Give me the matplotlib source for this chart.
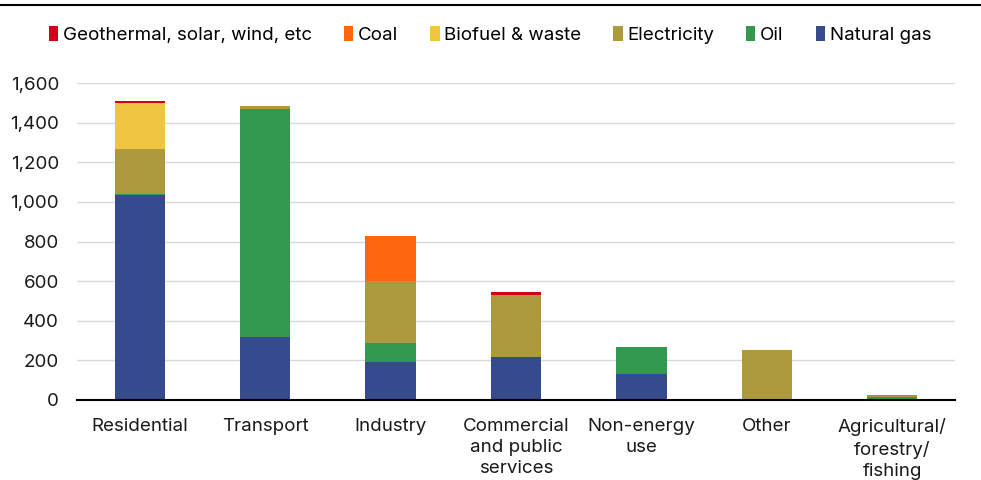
import matplotlib
matplotlib.use("Agg")
import matplotlib.pyplot as plt
from matplotlib.patches import Patch
from matplotlib.ticker import FuncFormatter
import numpy as np

plt.rcParams['font.family'] = ['Inter', 'DejaVu Sans']

categories = ["Residential", "Transport", "Industry", "Commercial\nand public\nservices",
              "Non-energy\nuse", "Other", "Agricultural/\nforestry/\nfishing"]

# Stacked bottom to top
natural_gas = [1035, 317, 192, 219, 133, 0, 2]
oil         = [5, 1151, 97, 0, 133, 0, 12]
electricity = [226, 18, 310, 311, 0, 252, 6]
biofuel     = [235, 0, 0, 0, 0, 0, 0]
coal        = [0, 0, 227, 0, 0, 0, 5]
geothermal  = [9, 0, 0, 15, 0, 0, 0]

series = [
    ("Natural gas", natural_gas, "#364A8E"),
    ("Oil", oil, "#339951"),
    ("Electricity", electricity, "#AE9A3E"),
    ("Biofuel & waste", biofuel, "#F0C541"),
    ("Coal", coal, "#FF6610"),
    ("Geothermal, solar, wind, etc", geothermal, "#D0021B"),
]

yticks = [0, 200, 400, 600, 800, 1000, 1200, 1400, 1600]

FS = 13.5

fig = plt.figure(figsize=(9.81, 4.8), dpi=100)
ax = fig.add_axes([0.0785, 0.1667, 0.895, 0.66])

x = np.arange(len(categories))
bottom = np.zeros(len(categories))
for name, vals, color in series:
    v = np.array(vals, dtype=float)
    ax.bar(x, v, width=0.4, bottom=bottom, color=color, edgecolor="none", zorder=3)
    bottom += v

ax.set_xlim(-0.5, len(categories) - 0.5)
ax.set_ylim(0, 1600)
ax.set_yticks(yticks)
ax.yaxis.set_major_formatter(FuncFormatter(lambda v, p: f"{int(v):,}"))
ax.set_xticks(x)
ax.set_xticklabels(categories, linespacing=1.32)
ax.tick_params(axis="y", length=0, pad=13, labelsize=FS, labelcolor="#1a1a1a")
ax.tick_params(axis="x", length=0, pad=13, labelsize=FS, labelcolor="#1a1a1a")

ax.grid(axis="y", color="#d9d9d9", linewidth=1.0, zorder=0)
for s in ["top", "right", "left"]:
    ax.spines[s].set_visible(False)
ax.spines["bottom"].set_color("black")
ax.spines["bottom"].set_linewidth(1.5)
ax.spines["bottom"].set_zorder(4)

# Horizontal rule across the top of the figure
fig.add_artist(plt.Line2D([0, 1], [1 - 5 / 480, 1 - 5 / 480], color="black",
                          linewidth=1.5, transform=fig.transFigure))

handles = [Patch(facecolor=c, edgecolor="none", label=n) for n, _, c in reversed(series)]
fig.legend(handles=handles, loc="center", bbox_to_anchor=(0.4995, 1 - 35 / 480),
           ncol=6, frameon=False, fontsize=FS, handlelength=0.5, handleheight=0.9,
           handletextpad=0.25, columnspacing=1.7, borderaxespad=0)

fig.savefig("out.png", dpi=100)
